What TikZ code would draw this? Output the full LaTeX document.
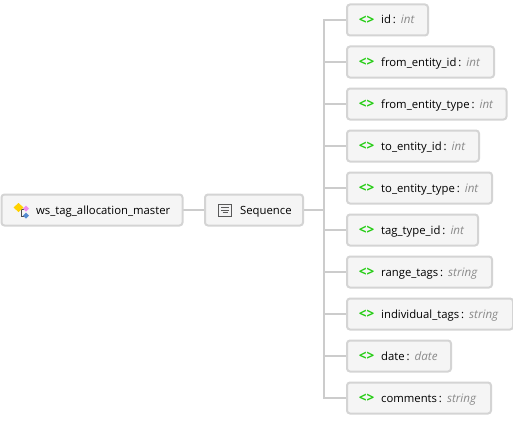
\documentclass[tikz,border=0pt]{standalone}
\usepackage{fontspec}
\setmainfont{Open Sans}
\definecolor{linec}{HTML}{CCCCCC}
\definecolor{borderc}{HTML}{D4D4D4}
\definecolor{fillc}{HTML}{F5F5F5}
\definecolor{greenc}{HTML}{22CC11}
\definecolor{typec}{HTML}{8A8A8A}
\tikzset{
  conn/.style={draw=linec,line width=2pt},
  boxbase/.style={draw=borderc,fill=fillc,line width=2pt,rounded corners=3pt,minimum height=31pt,inner xsep=0pt,inner ysep=0pt,anchor=west,align=left,font=\fontsize{11}{13}\selectfont,text height=8.5pt,text depth=2.5pt},
  codeicon/.style={text=greenc,font=\fontsize{13.5}{15}\selectfont\bfseries},
  labeltext/.style={anchor=base west,inner sep=0pt,font=\fontsize{11.3}{13}\selectfont},
}
\newcommand{\fieldrow}[5]{%
  \node[boxbase,minimum width=#2 pt] (#1) at (346,#3) {};
  \node[labeltext] (#1t) at ([xshift=35pt,yshift=-4pt]#1.west) {#4\,:\hspace{.45em}{\color{typec}\itshape\fontsize{11.6}{13}\selectfont #5}};
  \node[anchor=base,inner sep=0pt,codeicon] (#1i) at ([xshift=20.5pt,yshift=-4.2pt]#1.west) {<>};
  \draw[conn] (trunk |- #1.west) -- (#1.west);
}
\begin{document}
\begin{tikzpicture}[x=1pt,y=-1pt]
\useasboundingbox (0,0) rectangle (513,420);
\fill[white] (0,0) rectangle (513,420);
\coordinate (trunk) at (324,210);
\coordinate (top) at (324,20);
\coordinate (bot) at (324,398);
\draw[conn,line cap=rect] (top) -- (bot);
\draw[conn] (182,210) -- (204,210);
\draw[conn] (303,210) -- (trunk);
\node[boxbase,minimum width=181pt] (root) at (.5,210) {};
\node[labeltext] (roott) at (36,214) {ws\_tag\_allocation\_master};
\node[boxbase,minimum width=98pt] (seq) at (204,210) {};
\node[labeltext] (seqt) at (240,214) {Sequence};
% sequence icon
\draw[draw=black!65,fill=blue!8!black!5!white,line width=.9pt] (218.5,204) rectangle (231,216);
\foreach \yy/\xa/\xb in {207.5/221/229,210/221/229,212.8/222.5/227.5}{\draw[black!65,line width=.8pt] (\xa,\yy) -- (\xb,\yy);}
% root icon
\draw[black!70,line width=.8pt] (21,209) -- (21,216) -- (25,216);
\draw[black!70,line width=.8pt] (20,209) -- (24,209);
\fill[orange!35!yellow] (18.5,203) -- (23.5,207.5) -- (18.5,212) -- (13.5,207.5) -- cycle;
\fill[violet!30!magenta!45!white] (26,205.5) -- (29,208.5) -- (26,211.5) -- (23,208.5) -- cycle;
\fill[cyan!50!blue!70!white] (26,212.5) -- (29,215.5) -- (26,218.5) -- (23,215.5) -- cycle;
% fields
\fieldrow{a}{81}{20}{id}{int}
\fieldrow{b}{147}{62}{from\_entity\_id}{int}
\fieldrow{c}{159.5}{104}{from\_entity\_type}{int}
\fieldrow{d}{132}{146}{to\_entity\_id}{int}
\fieldrow{e}{145}{188}{to\_entity\_type}{int}
\fieldrow{f}{131}{230}{tag\_type\_id}{int}
\fieldrow{g}{145}{272}{range\_tags}{string}
\fieldrow{h}{166}{314}{individual\_tags}{string}
\fieldrow{i}{104}{356}{date}{date}
\fieldrow{j}{144}{398}{comments}{string}
\end{tikzpicture}
\end{document}
